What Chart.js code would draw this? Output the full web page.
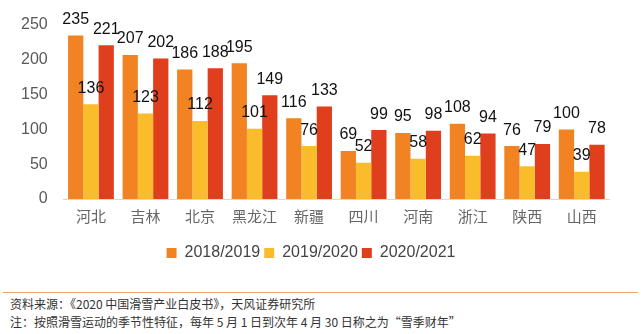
<!DOCTYPE html>
<html>
<head>
<meta charset="utf-8">
<script src="https://cdn.jsdelivr.net/npm/chart.js@4/dist/chart.umd.min.js"></script>
<style>
  body { margin: 0; background: #fff; font-family: "Noto Sans CJK SC", sans-serif; }
  #wrap { width: 641px; height: 290px; position: relative; }
  #note { border-top: 1px solid #F5A36B; margin: 2px 3px 0 3px; padding: 2px 0 0 7px; font-size: 12px; color: #333; line-height: 18px; }
</style>
</head>
<body>
<div id="wrap"><canvas id="chart"></canvas></div>
<div id="note">
  <div>资料来源：《2020 中国滑雪产业白皮书》，天风证券研究所</div>
  <div>注：按照滑雪运动的季节性特征，每年 5 月 1 日到次年 4 月 30 日称之为“雪季财年”</div>
</div>
<script>
  // categories and series values
  const provinces = ["河北", "吉林", "北京", "黑龙江", "新疆", "四川", "河南", "浙江", "陕西", "山西"];
  const season1819 = [235, 207, 186, 195, 116, 69, 95, 108, 76, 100];
  const season1920 = [136, 123, 112, 101, 76, 52, 58, 62, 47, 39];
  const season2021 = [221, 202, 188, 149, 133, 99, 98, 94, 79, 78];
  const seasonNames = ["2018/2019", "2019/2020", "2020/2021"];
  const yTicks = [0, 50, 100, 150, 200, 250];

  // simple value labels above each bar
  const barLabels = {
    id: "barLabels",
    afterDatasetsDraw(chart) {
      const ctx = chart.ctx;
      ctx.save();
      ctx.font = "16px Arial, 'Liberation Sans', sans-serif";
      ctx.fillStyle = "#111";
      ctx.textAlign = "center";
      ctx.textBaseline = "bottom";
      chart.data.datasets.forEach((ds, i) => {
        chart.getDatasetMeta(i).data.forEach((bar, j) => {
          ctx.fillText(ds.data[j], bar.x, bar.y - 8);
        });
      });
      ctx.restore();
    }
  };

  const ctx = document.getElementById("chart").getContext("2d");
  new Chart(ctx, {
    type: "bar",
    data: {
      labels: provinces,
      datasets: [
        { label: seasonNames[0], data: season1819, backgroundColor: "#F28322" },
        { label: seasonNames[1], data: season1920, backgroundColor: "#FBBC2C" },
        { label: seasonNames[2], data: season2021, backgroundColor: "#DF3F1D" },
      ],
    },
    options: {
      responsive: true,
      maintainAspectRatio: false,
      animation: false,
      layout: { padding: { top: 25, right: 32, left: 13, bottom: 19 } },
      datasets: { bar: { categoryPercentage: 0.84, barPercentage: 1.0 } },
      plugins: {
        legend: {
          position: "bottom",
          labels: {
            boxWidth: 10, boxHeight: 10, padding: 4,
            color: "#444",
            font: { size: 16, family: "Arial, 'Liberation Sans', sans-serif" },
          },
        },
        tooltip: { enabled: false },
      },
      scales: {
        x: {
          afterFit(axis) { axis.height = 42; },
          grid: { display: false },
          border: { color: "#D9D9D9" },
          ticks: { color: "#666", font: { size: 15, family: "'Noto Sans CJK SC'" }, padding: 0 },
        },
        y: {
          min: 0, max: 250,
          afterBuildTicks(axis) { axis.ticks = yTicks.map(v => ({ value: v })); },
          grid: { display: false },
          border: { display: false },
          ticks: { color: "#595959", font: { size: 16, family: "Arial, 'Liberation Sans', sans-serif" }, padding: 8 },
        },
      },
    },
    plugins: [barLabels],
  });
</script>
</body>
</html>
